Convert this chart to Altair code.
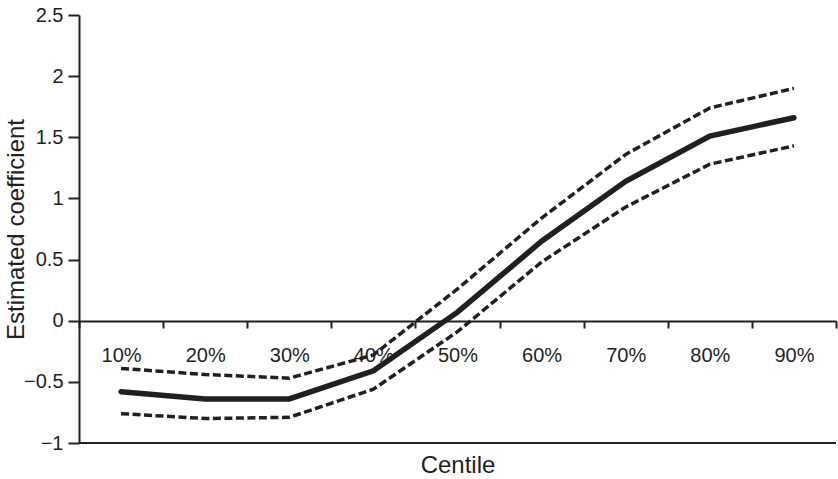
import altair as alt
import pandas as pd

centiles = ["10%", "20%", "30%", "40%", "50%", "60%", "70%", "80%", "90%"]
estimate = [-0.58, -0.64, -0.64, -0.41, 0.07, 0.65, 1.14, 1.51, 1.66]
upper = [-0.39, -0.44, -0.47, -0.28, 0.26, 0.84, 1.36, 1.74, 1.90]
lower = [-0.76, -0.80, -0.79, -0.56, -0.09, 0.48, 0.93, 1.28, 1.43]
y_ticks = [-1, -0.5, 0, 0.5, 1, 1.5, 2, 2.5]

df = pd.DataFrame({"centile": centiles, "estimate": estimate,
                   "upper": upper, "lower": lower})

W, H = 757, 428
ink = "#231f20"
font = "Liberation Sans"

x_enc = alt.X(
    "centile:N", sort=centiles, bandPosition=0.5,
    scale=alt.Scale(type="band", paddingInner=0, paddingOuter=0),
    axis=alt.Axis(
        title="Centile", offset=-122, tickBand="extent", labelAngle=0,
        tickSize=7, tickWidth=2, tickColor=ink, domainColor=ink, domainWidth=2,
        labelFontSize=20, labelFont=font, labelColor=ink, labelPadding=17,
        labelBaseline="top", titleFontSize=24, titleFont=font,
        titleFontWeight="normal", titleColor=ink, titleY=151,
        titleBaseline="alphabetic", grid=False,
    ),
)

y_scale = alt.Scale(domain=[-1, 2.5], nice=False, zero=False)
y_axis = alt.Axis(
    title="Estimated coefficient", values=y_ticks, format="~g",
    tickSize=11, tickWidth=2, tickColor=ink, domainColor=ink, domainWidth=2,
    labelFontSize=20, labelFont=font, labelColor=ink, labelPadding=5,
    titleFontSize=24, titleFont=font, titleFontWeight="normal", titleColor=ink,
    titleX=-56, titleY=H / 2, titleAngle=-90, titleAlign="center",
    titleBaseline="alphabetic", grid=False,
)

base = alt.Chart(df)

def line(field, width, dash=None):
    kw = dict(color=ink, strokeWidth=width)
    if dash:
        kw["strokeDash"] = dash
        kw["strokeCap"] = "butt"
    else:
        kw["strokeCap"] = "round"
    return base.mark_line(**kw).encode(
        x=x_enc,
        y=alt.Y(f"{field}:Q", scale=y_scale, axis=y_axis),
    )

bottom = alt.Chart(pd.DataFrame({"v": [-1]})).mark_rule(
    color=ink, strokeWidth=2
).encode(y=alt.Y("v:Q", scale=y_scale, axis=y_axis))

chart = alt.layer(
    bottom,
    line("lower", 3.5, [8, 3.5]),
    line("upper", 3.5, [8, 3.5]),
    line("estimate", 5.5),
).properties(
    width=W, height=H, autosize="none",
    padding={"left": 79, "top": 15, "right": 2, "bottom": 36},
).configure_view(stroke=None)

chart.save("out.html", embed_options={"renderer": "svg", "actions": False})
